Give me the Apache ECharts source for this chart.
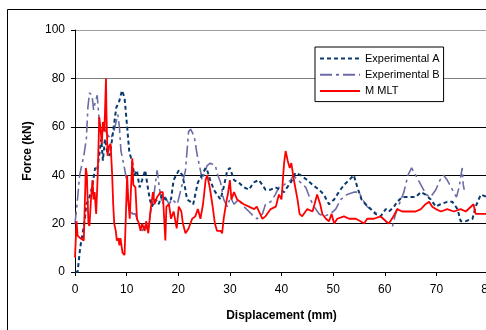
<!DOCTYPE html>
<html>
<head>
<meta charset="utf-8">
<script src="https://cdn.jsdelivr.net/npm/echarts@6/dist/echarts.min.js"></script>
<style>
  html, body { margin: 0; padding: 0; background: #fff; }
  #chart { width: 486px; height: 330px; }
</style>
</head>
<body>
<div id="chart"></div>
<script>
// displacement (mm) / force (kN)
var expAX = [0.1, 0.5, 1.0, 1.4, 1.8, 2.2, 2.7, 3.3, 3.9, 4.3, 4.8, 5.1, 5.4, 5.8, 6.2, 6.7, 7.2, 7.5, 8.0, 8.5, 9.1, 9.6, 10.1, 10.5, 11.1, 11.5, 12.0, 12.5, 13.0, 13.6, 14.1, 14.5, 14.9, 15.6, 16.2, 16.9, 17.5, 18.2, 18.6, 19.1, 20.1, 20.8, 21.3, 21.7, 22.4, 22.9, 23.3, 23.8, 24.6, 25.3, 25.6, 26.2, 26.9, 27.5, 28.2, 28.8, 29.5, 30.0, 30.8, 31.7, 32.7, 33.7, 34.6, 35.6, 36.3, 36.9, 37.9, 38.8, 39.8, 40.5, 41.1, 41.8, 42.7, 43.7, 45.0, 46.0, 47.3, 48.2, 49.2, 50.2, 51.1, 52.1, 53.1, 54.0, 54.7, 55.5, 56.3, 57.3, 58.2, 59.2, 60.2, 60.8, 61.8, 62.4, 63.4, 64.7, 66.0, 67.0, 67.9, 68.9, 69.9, 70.8, 72.1, 73.1, 74.1, 74.7, 75.7, 77.0, 77.6, 78.6, 79.8];
var expAY = [0, 0, 10, 15, 20, 28, 30, 35, 43, 42, 50, 55, 46, 55, 50, 48, 55, 60, 68, 70, 75, 72, 60, 50, 45, 40, 42, 35, 38, 42, 35, 30, 27, 30, 28, 32, 30, 30, 30, 38, 42, 40, 35, 30, 29, 28, 32, 37, 40, 43, 42, 38, 34, 32, 30, 35, 42, 43, 38, 37, 35, 34, 37, 38, 36, 34, 34, 35, 34, 33, 35, 37, 41, 40, 38, 36, 34, 32, 28, 30, 33, 36, 38, 40, 35, 30, 28, 26, 24, 23, 26, 25, 27, 29, 31, 31, 31, 33, 32, 30, 27, 28, 29, 29, 26, 21, 21, 22, 27, 32, 31];

var expBX = [0, 0.4, 0.9, 1.4, 1.7, 2.2, 2.5, 2.8, 3.3, 3.6, 3.9, 4.3, 4.6, 4.9, 5.6, 6.2, 6.9, 7.5, 8.3, 8.6, 8.9, 9.4, 10.0, 10.4, 11.1, 11.7, 12.3, 13.0, 13.6, 14.2, 14.6, 15.3, 15.9, 16.4, 16.9, 17.5, 18.2, 18.8, 19.8, 20.4, 21.4, 22.0, 22.4, 23.1, 23.7, 24.3, 24.6, 24.9, 25.6, 26.2, 27.2, 27.5, 28.2, 28.8, 29.5, 30.1, 30.8, 31.7, 32.7, 33.7, 34.6, 35.3, 36.3, 36.9, 37.9, 38.8, 39.5, 40.5, 41.1, 41.8, 42.3, 43.1, 43.7, 44.7, 45.6, 46.3, 47.3, 48.2, 49.5, 50.5, 51.5, 52.7, 54.0, 55.0, 55.7, 56.6, 57.9, 59.2, 60.2, 60.8, 61.5, 62.1, 62.8, 63.7, 64.5, 65.2, 66.0, 67.0, 68.0, 68.9, 69.9, 70.7, 71.4, 72.1, 73.1, 73.9, 74.4, 75.0, 75.2, 75.4];
var expBY = [20, 28, 40, 45, 48, 55, 68, 74, 73, 67, 70, 73, 65, 58, 60, 57, 55, 58, 65, 60, 50, 45, 38, 28, 24, 24, 20, 17, 19, 17, 24, 32, 42, 34, 28, 31, 28, 30, 28, 33, 42, 58, 59, 56, 48, 42, 38, 40, 44, 45, 44, 41, 37, 30, 27, 31, 28, 30, 27, 25, 23, 22, 24, 28, 29, 32, 35, 36, 37, 38, 40, 38, 37, 35, 30, 27, 24, 23, 24, 26, 30, 32, 33, 33, 30, 27, 25, 23, 21, 20, 19, 24, 28, 33, 40, 43, 40, 36, 32, 31, 34, 38, 40, 38, 34, 31, 35, 43, 36, 34];

var mltX = [0, 0.3, 0.5, 1.0, 1.7, 2.1, 2.3, 2.6, 2.8, 3.1, 3.4, 3.6, 3.8, 4.1, 4.4, 4.7, 4.9, 5.2, 5.4, 5.7, 6.0, 6.1, 6.3, 6.6, 6.9, 7.2, 7.4, 7.6, 7.9, 8.1, 8.4, 8.6, 8.8, 9.2, 9.6, 9.8, 10.1, 10.3, 10.6, 11.1, 11.3, 11.7, 12.0, 12.4, 12.7, 13.0, 13.5, 13.8, 14.2, 14.6, 15.1, 15.4, 15.9, 16.6, 17.0, 17.5, 17.7, 18.2, 18.6, 19.1, 19.7, 20.1, 20.6, 20.9, 21.4, 22.0, 22.7, 23.3, 23.8, 24.3, 24.8, 25.3, 25.6, 26.1, 26.6, 27.1, 27.5, 28.2, 28.5, 28.8, 29.4, 29.6, 30.0, 30.3, 30.8, 31.4, 32.7, 33.7, 34.7, 35.2, 36.3, 36.9, 37.9, 38.9, 39.5, 40.0, 40.5, 40.8, 41.2, 41.6, 41.9, 42.4, 43.1, 43.5, 44.0, 45.0, 46.0, 46.4, 46.9, 47.5, 47.9, 48.6, 49.2, 49.7, 50.2, 50.8, 52.1, 53.1, 54.4, 55.3, 56.0, 56.6, 57.9, 59.2, 60.2, 60.8, 61.7, 62.4, 63.4, 64.7, 66.0, 67.0, 67.9, 68.6, 69.2, 69.9, 70.9, 72.1, 73.4, 74.7, 75.7, 77.2, 77.6, 78.6, 79.8];
var mltY = [6, 21, 15, 14, 13, 43, 40, 20, 19, 30, 38, 30, 33, 24, 40, 64, 60, 53, 62, 58, 80, 65, 48, 52, 53, 40, 28, 20, 17, 13, 14, 11, 14, 8, 7, 20, 40, 30, 22, 47, 36, 35, 22, 20, 17, 20, 17, 21, 16, 25, 33, 28, 31, 33, 33, 13, 27, 28, 22, 25, 18, 27, 25, 20, 16, 18, 22, 23, 26, 22, 28, 38, 40, 35, 28, 20, 17, 17, 16, 22, 30, 32, 38, 30, 33, 30, 28, 27, 26, 27, 22, 23, 26, 27, 32, 30, 45, 50, 46, 43, 45, 38, 30, 24, 23, 26, 25, 28, 32, 28, 24, 22, 21, 24, 20, 22, 23, 22, 22, 21, 20, 22, 22, 23, 21, 20, 23, 26, 25, 25, 25, 26, 28, 29, 27, 26, 25, 26, 25, 26, 25, 28, 24, 24, 24];

var xTicks = { min: 0, max: 80, step: 10 };
var yTicks = { min: 0, max: 100, step: 20 };

function pairs(xs, ys) {
  return xs.map(function (x, i) { return [x, ys[i]]; });
}

var chart = echarts.init(document.getElementById('chart'));
var font = 'Liberation Sans, Arial, sans-serif';

var option = {
  backgroundColor: '#fff',
  animation: false,
  grid: { left: 75, top: 30, width: 413, height: 242, containLabel: false, outerBoundsMode: 'none' },
  graphic: [
    // outer frame of the figure (top and left edges only, rest is cut off)
    { type: 'line', silent: true, shape: { x1: 7.5, y1: 9.5, x2: 486, y2: 9.5 }, style: { stroke: '#000', lineWidth: 1 } },
    { type: 'line', silent: true, shape: { x1: 7.5, y1: 9.5, x2: 7.5, y2: 330 }, style: { stroke: '#000', lineWidth: 1 } }
  ],
  legend: {
    orient: 'vertical',
    left: 315, top: 47,
    itemWidth: 40, itemHeight: 14, itemGap: 5,
    padding: [6, 4, 5, 4],
    backgroundColor: '#fff',
    borderColor: '#000', borderWidth: 1,
    itemStyle: { color: 'transparent', borderColor: 'transparent', borderWidth: 0 },
    textStyle: { fontFamily: font, fontSize: 11, color: '#000' },
    data: ['Experimental A', 'Experimental B', 'M MLT']
  },
  xAxis: {
    type: 'value',
    min: xTicks.min, max: xTicks.max, interval: xTicks.step,
    name: 'Displacement (mm)',
    nameLocation: 'middle', nameGap: 38,
    nameTextStyle: { fontFamily: font, fontSize: 12, fontWeight: 'bold', color: '#000' },
    axisLine: { lineStyle: { color: '#000', width: 1 } },
    axisTick: { show: true, length: 4, lineStyle: { color: '#000' } },
    axisLabel: { fontFamily: font, fontSize: 12, color: '#000', margin: 12 },
    splitLine: { show: false }
  },
  yAxis: {
    type: 'value',
    min: yTicks.min, max: yTicks.max, interval: yTicks.step,
    name: 'Force (kN)',
    nameLocation: 'middle', nameGap: 36,
    nameTextStyle: { fontFamily: font, fontSize: 12, fontWeight: 'bold', color: '#000' },
    axisLine: { show: true, lineStyle: { color: '#000', width: 1 } },
    axisTick: { show: true, length: 4, lineStyle: { color: '#000' } },
    axisLabel: { fontFamily: font, fontSize: 12, color: '#000', margin: 10 },
    splitLine: {
      show: true,
      lineStyle: { color: ['#000', '#000', '#000', '#000', '#808080', '#a0a0a0'], width: 1 }
    }
  },
  series: [
    {
      name: 'Experimental A', type: 'line', symbol: 'none',
      data: pairs(expAX, expAY),
      itemStyle: { color: '#0a3a6e' },
      lineStyle: { color: '#0a3a6e', width: 2, type: [4, 3] },
      z: 3
    },
    {
      name: 'Experimental B', type: 'line', symbol: 'none',
      data: pairs(expBX, expBY),
      itemStyle: { color: '#6c6ca6' },
      lineStyle: { color: '#6c6ca6', width: 1.6, type: [12, 4, 3, 4] },
      z: 2
    },
    {
      name: 'M MLT', type: 'line', symbol: 'none',
      data: pairs(mltX, mltY),
      itemStyle: { color: '#ff0000' },
      lineStyle: { color: '#ff0000', width: 1.8 },
      z: 4
    }
  ]
};

chart.setOption(option);
</script>
</body>
</html>
